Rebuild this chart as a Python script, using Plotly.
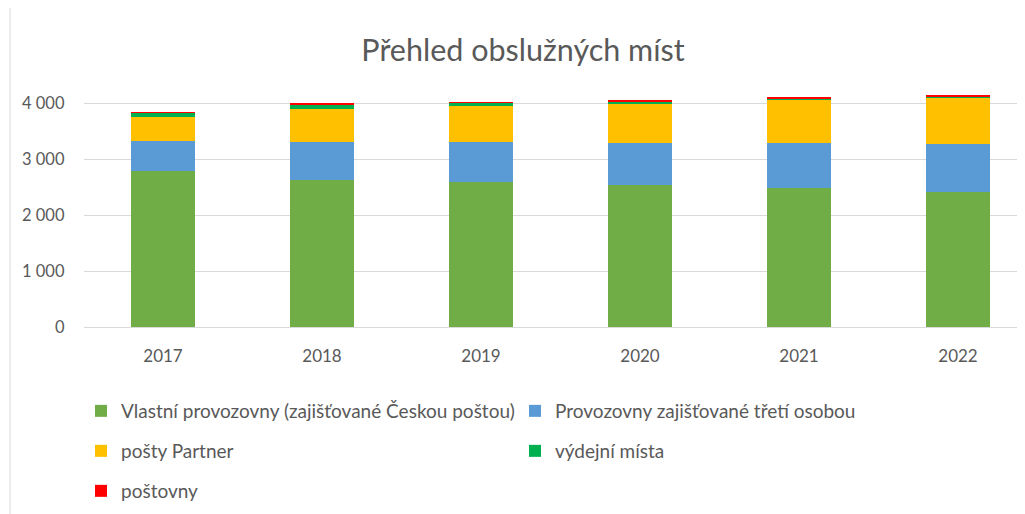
import plotly.graph_objects as go

years = ["2017", "2018", "2019", "2020", "2021", "2022"]
vlastni = [2790, 2625, 2590, 2535, 2480, 2410]
treti = [530, 685, 710, 755, 810, 860]
partner = [430, 585, 645, 690, 755, 820]
vydejni = [80, 85, 65, 60, 45, 40]
postovny = [15, 10, 10, 8, 12, 8]

names = ["Vlastní provozovny (zajišťované Českou poštou)",
         "Provozovny zajišťované třetí osobou",
         "pošty Partner", "výdejní místa", "poštovny"]
series = [vlastni, treti, partner, vydejni, postovny]
colors = ["#70AD47", "#5B9BD5", "#FFC000", "#00B050", "#FF0000"]
legend_ids = ["legend", "legend2", "legend3", "legend4", "legend5"]

# page has an 8px body margin; work in screen pixels and convert
OFF = 8
W, H = 1025 - OFF, 514 - OFF
FONT = "Lato"
TXT = "#595959"


def fx(px):
    return (px - OFF) / W


def fy(py):
    return 1 - (py - OFF) / H


fig = go.Figure()
for nm, vals, c, lg in zip(names, series, colors, legend_ids):
    fig.add_trace(go.Bar(x=years, y=vals, name=nm, marker=dict(color=c, line=dict(width=0)),
                         width=0.4, legend=lg))

# legend positions in screen pixels (symbol left x, row center y)
leg_pos = [(94, 411), (528, 411), (94, 451), (528, 451), (94, 491)]
legs = {}
for lg, (px, py) in zip(legend_ids, leg_pos):
    legs[lg] = dict(x=fx(px - 13), y=fy(py), xanchor="left", yanchor="middle",
                    font=dict(family=FONT, size=19, color=TXT), bgcolor="rgba(0,0,0,0)",
                    orientation="h")

x_left = 83.5
y0_px, y4000_px = 327, 103
px_per = (y0_px - y4000_px) / 4000
ymax = 4400
ytop_px = y0_px - ymax * px_per

fig.update_layout(
    width=W, height=H,
    margin=dict(l=0, r=0, t=0, b=0),
    paper_bgcolor="white", plot_bgcolor="white",
    barmode="stack",
    separators=", ",
    title=dict(text="Přehled obslužných míst", x=fx(523), xanchor="center",
               y=fy(50), yanchor="middle",
               font=dict(family=FONT, size=30.5, color=TXT)),
    xaxis=dict(domain=[fx(x_left), 1], range=[-0.5, (1025 - x_left) / 159 - 0.5],
               showgrid=False, showline=False, ticks="", automargin=False,
               tickfont=dict(family=FONT, size=17, color=TXT), ticklabelstandoff=17),
    yaxis=dict(domain=[fy(y0_px), fy(ytop_px)], range=[0, ymax],
               tickvals=[0, 1000, 2000, 3000, 4000], tickformat=",d",
               showgrid=True, gridcolor="#D9D9D9", gridwidth=1,
               zeroline=True, zerolinecolor="#D9D9D9", zerolinewidth=1,
               showline=False, ticks="", automargin=False,
               tickfont=dict(family=FONT, size=16.5, color=TXT), ticklabelstandoff=18),
    showlegend=True,
    **legs,
)

fig.add_shape(type="rect", xref="paper", yref="paper",
              x0=fx(10), x1=1.02, y0=-0.02, y1=fy(1),
              line=dict(color="#D9D9D9", width=1), fillcolor="rgba(0,0,0,0)", layer="below")

fig.write_html("out.html")
